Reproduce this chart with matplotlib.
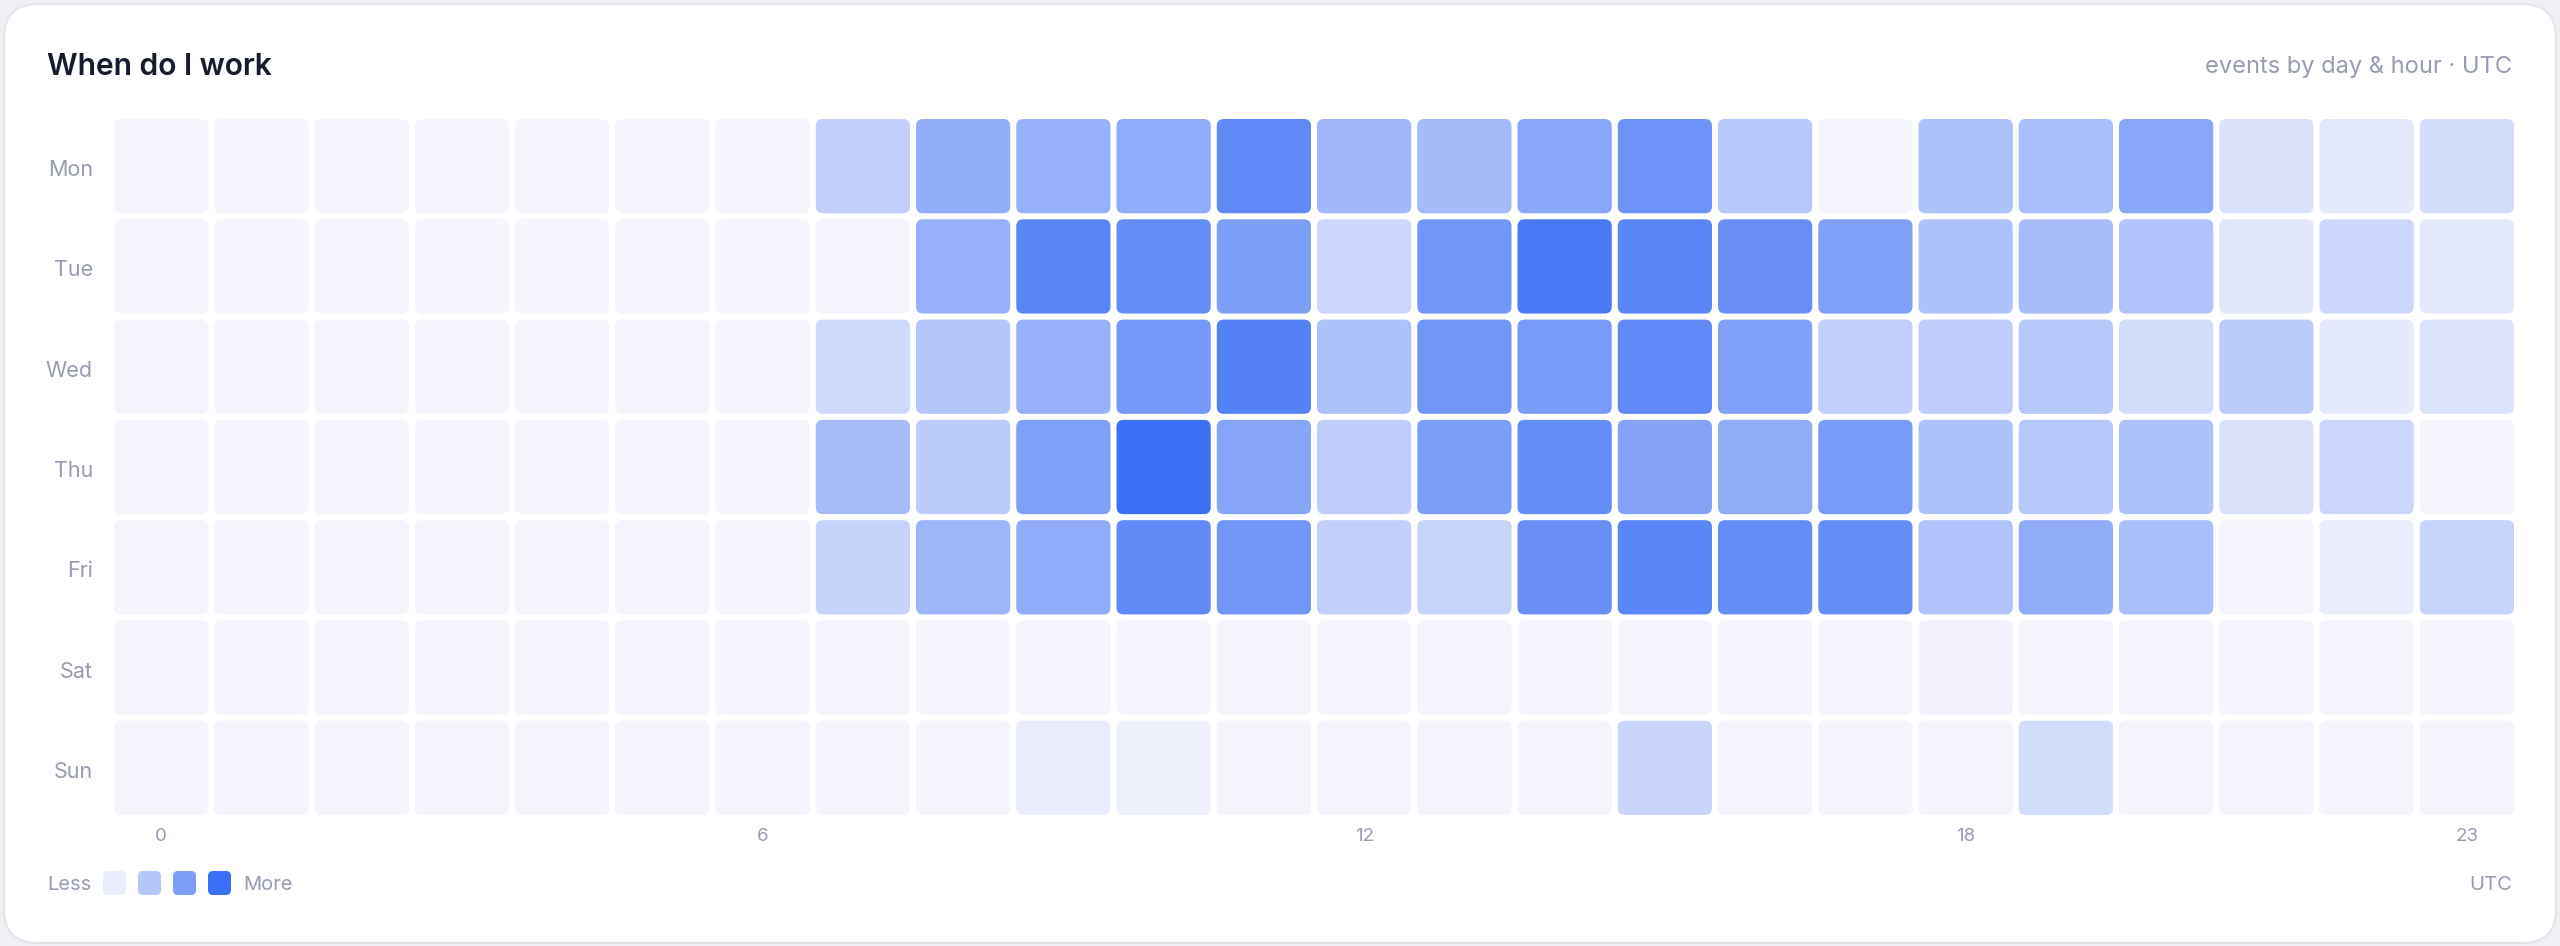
import matplotlib
matplotlib.use("Agg")
import matplotlib.pyplot as plt
from matplotlib.colors import LinearSegmentedColormap
from matplotlib.patches import FancyBboxPatch

days = ["Mon", "Tue", "Wed", "Thu", "Fri", "Sat", "Sun"]
hour_ticks = [0, 6, 12, 18, 23]

# relative activity per hour (0-100)
mon = [1, 1, 1, 1, 1, 1, 1, 28, 53, 51, 55, 80, 46, 44, 58, 73, 34, 1, 38, 41, 58, 15, 10, 19]
tue = [1, 1, 1, 1, 1, 1, 1, 1, 51, 83, 77, 64, 22, 71, 92, 83, 75, 63, 39, 42, 37, 11, 22, 10]
wed = [1, 1, 1, 1, 1, 1, 1, 21, 35, 51, 69, 86, 38, 70, 67, 80, 63, 28, 30, 34, 19, 31, 9, 14]
thu = [1, 1, 1, 1, 1, 1, 1, 42, 31, 63, 99, 59, 30, 65, 77, 61, 54, 67, 38, 34, 39, 15, 23, 1]
fri = [1, 1, 1, 1, 1, 1, 1, 26, 47, 55, 79, 70, 28, 25, 75, 83, 77, 77, 37, 54, 41, 1, 6, 25]
sat = [1, 1, 1, 1, 1, 1, 1, 1, 1, 1, 1, 1, 1, 1, 1, 1, 1, 1, 3, 1, 1, 1, 1, 1]
sun = [1, 1, 1, 1, 1, 1, 1, 1, 1, 7, 4, 1, 1, 1, 1, 24, 1, 1, 1, 19, 1, 1, 1, 1]
counts = [mon, tue, wed, thu, fri, sat, sun]

legend_levels = [6, 35, 65, 99]

cmap = LinearSegmentedColormap.from_list("work", ["#f5f5fc", "#3b6ef6"])
label_color = "#979cb1"
W, H = 2560, 946

fig = plt.figure(figsize=(W / 100, H / 100), dpi=100)
fig.patch.set_facecolor("#eef0f4")

# background axes in pixel coordinates: card, titles, legend
bg = fig.add_axes([0, 0, 1, 1], zorder=0)
bg.set_xlim(0, W)
bg.set_ylim(H, 0)
bg.set_axis_off()
bg.add_patch(FancyBboxPatch((4, 4), W - 8, H - 7,
                            boxstyle="round,pad=0,rounding_size=34",
                            facecolor="white", edgecolor="#e3e5ec", lw=1.5))

bg.text(47, 67, "When do I work", ha="left", va="center", fontsize=21.6,
        fontweight="semibold", color="#161b2e", family="Inter")
bg.text(2512, 67, "events by day & hour \u00b7 UTC", ha="right", va="center",
        fontsize=17, color=label_color, family="Inter")

# legend
bg.text(47, 885, "Less", ha="left", va="center", fontsize=14.5,
        color=label_color, family="Inter")
x0 = 103
for lv in legend_levels:
    bg.add_patch(FancyBboxPatch((x0, 871), 23, 24,
                                boxstyle="round,pad=0,rounding_size=5",
                                facecolor=cmap(lv / 100), edgecolor="none"))
    x0 += 35
bg.text(243, 885, "More", ha="left", va="center", fontsize=14.5,
        color=label_color, family="Inter")
bg.text(2512, 885, "UTC", ha="right", va="center", fontsize=14.5,
        color=label_color, family="Inter")

# heatmap axes
ax = fig.add_axes([111 / W, 1 - 818 / H, 2406 / W, 702 / H], zorder=1)
ax.set_facecolor("none")
ax.set_xlim(-0.5, 23.5)
ax.set_ylim(6.5, -0.5)
ax.set_axis_off()

for i, row in enumerate(counts):
    for j, v in enumerate(row):
        ax.add_patch(FancyBboxPatch((j - 0.47, i - 0.47), 0.94, 0.94,
                                    boxstyle="round,pad=0,rounding_size=0.07",
                                    facecolor=cmap(v / 100), edgecolor="none"))

for i, d in enumerate(days):
    ax.text(-0.68, i + 0.04, d, ha="right", va="center", fontsize=15.5,
            color=label_color, family="Inter")

for h in hour_ticks:
    ax.text(h, 6.68, str(h), ha="center", va="center", fontsize=13.5,
            color=label_color, family="Inter")

fig.savefig("out.png", dpi=100, facecolor=fig.get_facecolor())
